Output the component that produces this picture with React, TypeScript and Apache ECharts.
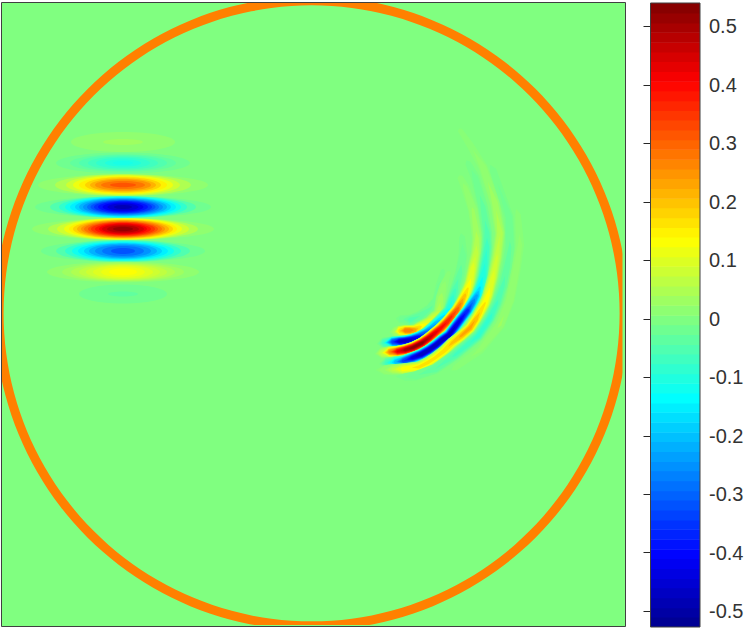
import React, { useEffect, useRef } from "react";
import * as echarts from "echarts";

const tickValues = [-0.5, -0.4, -0.3, -0.2, -0.1, 0, 0.1, 0.2, 0.3, 0.4, 0.5];
const barMin = -0.527;
const barMax = 0.54;
const barEdges = [
  -0.527, -0.51, -0.494, -0.477, -0.46, -0.444, -0.427, -0.41, -0.394, -0.377, -0.36, -0.344, -0.327,
  -0.31, -0.294, -0.277, -0.26, -0.244, -0.227, -0.21, -0.194, -0.177, -0.16, -0.144, -0.127, -0.11,
  -0.094, -0.077, -0.06, -0.044, -0.027, -0.01, 0.006, 0.023, 0.04, 0.056, 0.073, 0.09, 0.106, 0.123,
  0.14, 0.156, 0.173, 0.19, 0.206, 0.223, 0.24, 0.256, 0.273, 0.29, 0.306, 0.323, 0.34, 0.356, 0.373,
  0.39, 0.406, 0.423, 0.44, 0.456, 0.473, 0.49, 0.506, 0.523, 0.54,
];

// Ring: [centre x, centre y, outer radius, inner radius, value]
const ringRow = [311.6, 313.3, 317, 308, 0.27];
// Zero-valued areas: the whole field, then the strips beyond the ring on the right and at the bottom
const fieldRow = [1.5, 2.5, 625.5, 626.5, 0];
const edgeRows = [
  [622.5, 2.5, 625.5, 626.5, 0],
  [1.5, 625, 625.5, 626.5, 0],
];
const packetCentreX = 123;

// Left packet, contours of each stripe: [half width, half height, value]
const stripe142 = [[52, 10, 0.017], [20, 3, 0.033]];
const stripe163 = [[67, 10.5, -0.017], [53, 8.8, -0.033], [44, 7.8, -0.05], [35, 6.6, -0.067], [27, 5.3, -0.083], [18, 3.5, -0.1], [10, 2, -0.11]];
const stripe185 = [[85, 10.8, 0.017], [68, 10.8, 0.05], [57, 10.2, 0.083], [50, 9.4, 0.117], [44, 8.6, 0.15], [38, 7.7, 0.183], [33, 6.6, 0.217], [28, 5.5, 0.25], [22, 4, 0.283], [13, 2.2, 0.317]];
const stripe207 = [[88, 10.8, -0.017], [73, 10.8, -0.05], [64, 10.8, -0.083], [58, 10.3, -0.117], [53, 9.7, -0.15], [48, 9.2, -0.183], [44, 8.7, -0.217], [40, 8.1, -0.25], [36, 7.4, -0.283], [32.5, 6.7, -0.317], [29, 6.2, -0.35], [25, 5.4, -0.383], [20.5, 4.5, -0.417], [15.6, 3.5, -0.45], [9, 2, -0.483]];
const stripe229 = [[91, 10.8, 0.017], [75, 10.8, 0.05], [66, 10.8, 0.083], [59, 10.4, 0.117], [54, 10, 0.15], [50, 9.5, 0.183], [46, 9, 0.217], [42, 8.4, 0.25], [39, 7.8, 0.283], [35, 7.3, 0.317], [32, 6.7, 0.35], [28, 6, 0.383], [24, 5.4, 0.417], [21, 4.5, 0.45], [16, 3.6, 0.483], [10, 2.2, 0.517]];
const stripe251 = [[82, 10.8, -0.017], [67, 10.8, -0.05], [58, 10.3, -0.083], [51, 9.5, -0.117], [45, 8.8, -0.15], [39, 8, -0.183], [34, 7.2, -0.217], [28, 6.2, -0.25], [21, 5, -0.283], [12, 3, -0.317]];
const stripe272 = [[76, 10.2, 0.017], [61, 9.4, 0.033], [52, 8.8, 0.05], [44, 8.1, 0.067], [37, 7.3, 0.083], [30, 6.5, 0.1], [22, 5.2, 0.117], [14, 3.4, 0.133]];
const stripe294 = [[44, 9.5, -0.017], [15, 2.5, -0.033]];

const stripes: [number, number[][]][] = [
  [142, stripe142], [163, stripe163], [185, stripe185], [207, stripe207],
  [229, stripe229], [251, stripe251], [272, stripe272], [294, stripe294],
];

// Right crescent, ridge of each band: [x, y, value on the ridge]
const bandRed = [[374, 354, 0], [381, 353, 0.08], [389, 352, 0.28], [397, 351.5, 0.44], [405, 350, 0.52], [413, 347.5, 0.54], [422, 343, 0.54], [429, 338, 0.5], [435, 333, 0.46], [441, 328, 0.42], [447, 322, 0.4], [452, 316, 0.37], [457, 310, 0.33], [461, 303, 0.27], [465, 295, 0.21], [468, 288, 0.17], [470, 282, 0.14], [473, 267, 0.11], [476, 253, 0.08], [477, 238, 0.055], [473, 210, 0.035], [465, 187, 0.02], [460, 177, 0.012], [457, 170, 0]];
const bandBlueLow = [[378, 364, 0], [386, 363, -0.08], [395, 362, -0.22], [403, 361, -0.36], [412, 358, -0.45], [421, 354.5, -0.5], [429, 350, -0.5], [436, 345, -0.5], [442, 340, -0.5], [449, 335, -0.49], [455, 327, -0.47], [461, 319, -0.44], [468, 310, -0.38], [473, 302, -0.3], [477, 295, -0.24], [480, 287, -0.17], [483, 276, -0.13], [485, 263, -0.1], [487, 247, -0.08], [487, 233, -0.06], [483, 207, -0.04], [475, 177, -0.022], [468, 163, -0.012], [462, 152, 0]];
const bandBlueHigh = [[376, 344, 0], [383, 343, -0.08], [392, 342, -0.36], [399, 341.5, -0.48], [405, 341, -0.5], [412, 339.5, -0.47], [419, 337, -0.42], [426, 333, -0.33], [432, 328, -0.27], [437, 323, -0.23], [442, 318, -0.19], [449, 310, -0.14], [452, 300, -0.1], [455, 290, -0.07], [460, 273, -0.04], [463, 255, -0.025], [462, 237, -0.012], [458, 222, 0]];
const bandOrange = [[388, 332, 0], [394, 332, 0.05], [399, 331, 0.19], [405, 330.5, 0.3], [410, 330.5, 0.3], [415, 330, 0.26], [420, 327, 0.18], [429, 322, 0.12], [434, 317, 0.09], [439, 312, 0.07], [441, 297, 0.04], [444, 285, 0.02], [449, 272, 0.01], [452, 262, 0]];
const bandYellow = [[372, 370, 0], [384, 370, 0.03], [392, 369.5, 0.07], [402, 369, 0.15], [419, 367, 0.18], [428, 362.5, 0.18], [435, 358, 0.18], [444, 351, 0.19], [452, 343, 0.21], [461, 336, 0.24], [470, 328, 0.25], [476, 319, 0.23], [480, 312, 0.2], [485, 303, 0.17], [488, 295, 0.15], [493, 277, 0.11], [497, 257, 0.085], [500, 233, 0.065], [495, 203, 0.045], [483, 167, 0.025], [470, 145, 0.015], [460, 130, 0.011], [455, 122, 0]];
const bandCyanOuter = [[385, 376, 0], [405, 377, -0.017], [415, 376, -0.03], [435, 369, -0.05], [455, 355, -0.07], [478, 336, -0.09], [490, 318, -0.09], [497, 303, -0.07], [503, 285, -0.055], [507, 267, -0.045], [510, 247, -0.035], [509, 217, -0.025], [493, 170, -0.014], [485, 155, 0]];
const bandPaleOuter = [[440, 378, 0], [455, 368, 0.012], [480, 350, 0.02], [500, 325, 0.035], [510, 300, 0.03], [516, 270, 0.025], [520, 245, 0.02], [518, 215, 0.012], [510, 190, 0]];
const bandCyanUpper = [[392, 318, 0], [400, 319, -0.02], [410, 320, -0.06], [420, 316, -0.05], [430, 309, -0.035], [437, 300, -0.03], [440, 285, -0.02], [443, 270, -0.01], [446, 258, 0]];

const bands = [bandCyanUpper, bandOrange, bandBlueHigh, bandRed, bandBlueLow, bandYellow, bandCyanOuter, bandPaleOuter];
const contourLevels = [0.009, 0.017, 0.033, 0.05, 0.067, 0.083, 0.1, 0.133, 0.167, 0.2, 0.233, 0.267, 0.3, 0.333, 0.367, 0.4, 0.433, 0.467, 0.5, 0.525];

const jet = ["#000080", "#0000ff", "#0080ff", "#00ffff", "#80ff80", "#ffff00", "#ff8000", "#ff0000", "#800000"];

const ellipseRows: number[][] = [];
stripes.forEach(([cy, rows]) => rows.forEach(([rx, ry, v]) => ellipseRows.push([packetCentreX, cy, rx, ry, v])));

const crescentRows: number[][] = [];
bands.forEach((band, i) => {
  const top = Math.max(...band.map((s) => Math.abs(s[2])));
  const sign = band.some((s) => s[2] < 0) ? -1 : 1;
  contourLevels.filter((l) => l <= top).forEach((l) => crescentRows.push([i, 0, 0, 0, sign * l]));
});

const barRows = barEdges.slice(0, -1).map((lo, i) => [lo, barEdges[i + 1], 0, 0, (lo + barEdges[i + 1]) / 2]);

function contourPolygon(band: number[][], level: number): number[][] | null {
  const L = Math.abs(level);
  const idx = band.map((_, i) => i).filter((i) => Math.abs(band[i][2]) >= L);
  if (!idx.length) return null;
  const a = idx[0];
  const b = idx[idx.length - 1];
  const left: number[][] = [];
  const right: number[][] = [];
  for (let i = a; i <= b; i++) {
    const prev = band[Math.max(i - 1, 0)];
    const next = band[Math.min(i + 1, band.length - 1)];
    const dx = next[0] - prev[0];
    const dy = next[1] - prev[1];
    const n = Math.hypot(dx, dy) || 1;
    const ratio = Math.min(1, L / Math.abs(band[i][2]));
    const hw = 5.7 * Math.pow((Math.acos(ratio) * 2) / Math.PI, 0.9);
    left.push([band[i][0] - (dy / n) * hw, band[i][1] + (dx / n) * hw]);
    right.push([band[i][0] + (dy / n) * hw, band[i][1] - (dx / n) * hw]);
  }
  const tip = (i: number, j: number) => {
    const p = band[i];
    const q = band[j];
    if (!q) return p;
    const pv = Math.abs(p[2]);
    const qv = Math.abs(q[2]);
    const t = pv === qv ? 0 : (pv - L) / (pv - qv);
    return [p[0] + (q[0] - p[0]) * t, p[1] + (q[1] - p[1]) * t];
  };
  return [tip(a, a - 1), ...left, tip(b, b + 1), ...right.reverse()];
}

const seriesCommon = { type: "custom", clip: true, silent: true, animation: false };

const rectItem = (_: any, api: any) => {
  const a = api.coord([api.value(0), api.value(1)]);
  const b = api.coord([api.value(2), api.value(3)]);
  return { type: "rect", shape: { x: a[0], y: a[1], width: b[0] - a[0], height: b[1] - a[1] }, style: { fill: api.visual("color") } };
};

export default function App() {
  const ref = useRef<HTMLDivElement>(null);
  useEffect(() => {
    const chart = echarts.init(ref.current!, undefined, { renderer: "svg" });
    chart.setOption({
      animation: false,
      backgroundColor: "#ffffff",
      grid: [
        { left: 1.5, top: 2.5, width: 624, height: 624 },
        { left: 650.5, top: 3, width: 49.5, height: 624 },
      ],
      xAxis: [
        { type: "value", gridIndex: 0, min: 1.5, max: 625.5, show: false },
        { type: "value", gridIndex: 1, min: 0, max: 1, show: false },
      ],
      yAxis: [
        { type: "value", gridIndex: 0, min: 2.5, max: 626.5, inverse: true, show: false },
        {
          type: "value",
          gridIndex: 1,
          min: barMin,
          max: barMax,
          position: "right",
          z: 10,
          axisLine: { show: false },
          splitLine: { show: false },
          axisTick: { show: true, inside: true, length: 7, customValues: tickValues, lineStyle: { color: "#262626", width: 1 } },
          axisLabel: {
            show: true,
            customValues: tickValues,
            margin: 9,
            color: "#333333",
            fontSize: 20,
            fontFamily: "Liberation Sans",
          },
        },
      ],
      visualMap: {
        type: "continuous",
        show: false,
        min: -0.54,
        max: 0.54,
        dimension: 4,
        seriesIndex: [0, 1, 2, 3, 4, 5],
        inRange: { color: jet },
      },
      series: [
        { ...seriesCommon, data: [fieldRow], renderItem: rectItem },
        {
          ...seriesCommon,
          data: [ringRow],
          renderItem: (_: any, api: any) => {
            const c = api.coord([api.value(0), api.value(1)]);
            const s = api.size([api.value(2), api.value(3)]);
            return { type: "ring", shape: { cx: c[0], cy: c[1], r: Math.abs(s[0]), r0: Math.abs(s[1]) }, style: { fill: api.visual("color") } };
          },
        },
        { ...seriesCommon, data: edgeRows, renderItem: rectItem },
        {
          ...seriesCommon,
          data: ellipseRows,
          renderItem: (_: any, api: any) => {
            const c = api.coord([api.value(0), api.value(1)]);
            const s = api.size([api.value(2), api.value(3)]);
            return { type: "ellipse", shape: { cx: c[0], cy: c[1], rx: Math.abs(s[0]), ry: Math.abs(s[1]) }, style: { fill: api.visual("color") } };
          },
        },
        {
          ...seriesCommon,
          data: crescentRows,
          renderItem: (_: any, api: any) => {
            const band = bands[api.value(0)];
            const poly = contourPolygon(band, api.value(4));
            if (!poly) return null;
            return {
              type: "polygon",
              shape: { points: poly.map((p) => api.coord(p)) },
              style: { fill: api.visual("color") },
            };
          },
        },
        {
          ...seriesCommon,
          xAxisIndex: 1,
          yAxisIndex: 1,
          data: barRows,
          renderItem: (_: any, api: any) => {
            const a = api.coord([0, api.value(1)]);
            const b = api.coord([1, api.value(0)]);
            return {
              type: "rect",
              shape: { x: a[0], y: a[1], width: b[0] - a[0], height: b[1] - a[1] + 0.5 },
              style: { fill: api.visual("color") },
            };
          },
        },
      ],
      graphic: [
        { type: "rect", z: 100, silent: true, shape: { x: 1.5, y: 2.5, width: 624, height: 624 }, style: { fill: "none", stroke: "#404040", lineWidth: 1 } },
        { type: "rect", z: 100, silent: true, shape: { x: 650.5, y: 3, width: 49.5, height: 624 }, style: { fill: "none", stroke: "#404040", lineWidth: 1 } },
      ],
    });
    return () => chart.dispose();
  }, []);
  return <div ref={ref} style={{ position: "absolute", left: 0, top: 0, width: 747, height: 629 }} />;
}
